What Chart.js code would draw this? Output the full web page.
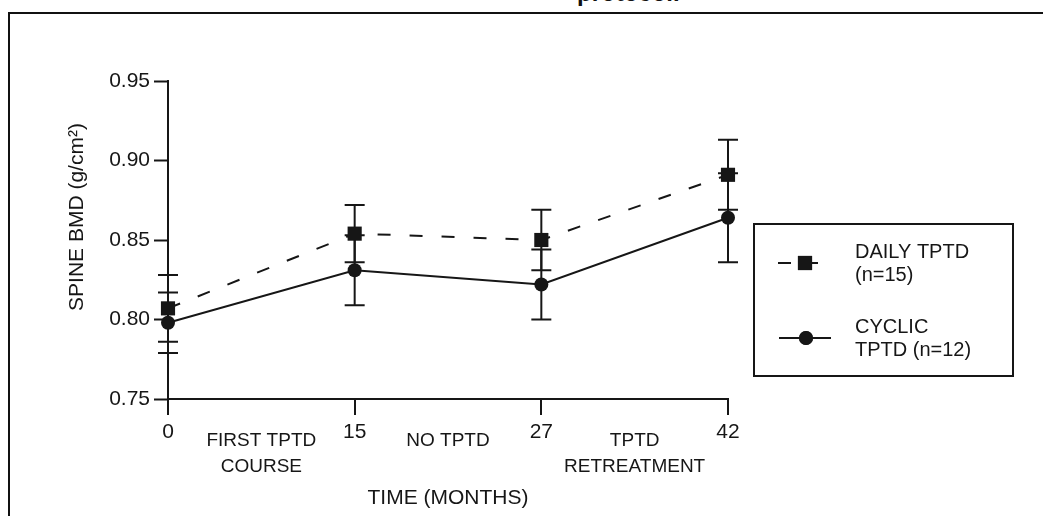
<!DOCTYPE html>
<html>
<head>
<meta charset="utf-8">
<script src="https://cdn.jsdelivr.net/npm/chart.js@4.4.1/dist/chart.umd.min.js"></script>
<style>
  html, body { margin: 0; padding: 0; background: #fff; overflow: hidden; }
  #wrap { position: relative; width: 1043px; height: 516px; }
  #frame { position: absolute; left: 8px; top: 12px; right: -10px; bottom: -10px;
           border-top: 2px solid #111; border-left: 2px solid #111; }
  #cut-title { position: absolute; left: 577px; top: -19px; font: bold 24px/24px Arial, "Liberation Sans", sans-serif; color: #111; }
  #box { position: absolute; left: 0; top: 0; width: 1043px; height: 516px; }
</style>
</head>
<body>
<div id="wrap">
  <div id="cut-title">protocol.</div>
  <div id="frame"></div>
  <div id="box"><canvas id="bmd"></canvas></div>
</div>
<script>
  const months = ['0', '15', '27', '42'];
  const periods = [['FIRST TPTD', 'COURSE'], 'NO TPTD', ['TPTD', 'RETREATMENT']];

  const daily = [0.807, 0.854, 0.850, 0.891];
  const dailyErr = [0.021, 0.018, 0.019, 0.022];
  const cyclic = [0.798, 0.831, 0.822, 0.864];
  const cyclicErr = [0.019, 0.022, 0.022, 0.028];

  const yTicks = [0.75, 0.80, 0.85, 0.90, 0.95];

  const ink = '#161616';
  const FONT = 'Arial, "Liberation Sans", sans-serif';

  // points sit at equal steps, one per visit
  function toPoints(vals) {
    return vals.map((v, i) => ({x: i, y: v}));
  }

  const errorBars = {
    id: 'errorBars',
    beforeDatasetsDraw(chart) {
      const ctx = chart.ctx;
      const yScale = chart.scales.y;
      const errs = [dailyErr, cyclicErr];
      ctx.save();
      ctx.strokeStyle = ink;
      ctx.lineWidth = 2;
      chart.data.datasets.forEach((ds, di) => {
        chart.getDatasetMeta(di).data.forEach((pt, i) => {
          const v = ds.data[i].y;
          const top = yScale.getPixelForValue(v + errs[di][i]);
          const bot = yScale.getPixelForValue(v - errs[di][i]);
          ctx.beginPath();
          ctx.moveTo(pt.x, top); ctx.lineTo(pt.x, bot);
          ctx.moveTo(pt.x - 10, top); ctx.lineTo(pt.x + 10, top);
          ctx.moveTo(pt.x - 10, bot); ctx.lineTo(pt.x + 10, bot);
          ctx.stroke();
        });
      });
      ctx.restore();
    }
  };

  const yTitle = {
    id: 'yTitle',
    afterDraw(chart) {
      const ctx = chart.ctx;
      ctx.save();
      ctx.translate(77, 217);
      ctx.rotate(-Math.PI / 2);
      ctx.font = '21px ' + FONT;
      ctx.fillStyle = ink;
      ctx.textAlign = 'center';
      ctx.textBaseline = 'middle';
      ctx.fillText('SPINE BMD (g/cm²)', 0, 0);
      ctx.restore();
    }
  };

  // boxed legend on the right, two lines of text per entry
  const boxLegend = {
    id: 'boxLegend',
    afterDraw(chart) {
      const ctx = chart.ctx;
      const sets = chart.data.datasets;
      ctx.save();
      ctx.strokeStyle = ink;
      ctx.lineWidth = 2;
      ctx.strokeRect(754, 224, 259, 152);

      const rows = [
        {ds: sets[0], y: 263, x0: 778, x1: 818, mx: 805, text: ['DAILY TPTD', '(n=15)'], ty: 252},
        {ds: sets[1], y: 338, x0: 779, x1: 831, mx: 806, text: ['CYCLIC', 'TPTD (n=12)'], ty: 327}
      ];
      rows.forEach(r => {
        ctx.setLineDash(r.ds.borderDash || []);
        ctx.beginPath();
        ctx.moveTo(r.x0, r.y); ctx.lineTo(r.x1, r.y);
        ctx.stroke();
        ctx.setLineDash([]);
        ctx.fillStyle = ink;
        Chart.helpers.drawPoint(ctx, {pointStyle: r.ds.pointStyle, radius: r.ds.pointRadius, borderWidth: 0}, r.mx, r.y);
        ctx.fill();
        ctx.font = '20px ' + FONT;
        ctx.textBaseline = 'middle';
        ctx.textAlign = 'left';
        ctx.fillText(r.text[0], 855, r.ty);
        ctx.fillText(r.text[1], 855, r.ty + 23);
      });
      ctx.restore();
    }
  };

  new Chart(document.getElementById('bmd'), {
    type: 'line',
    data: {
      datasets: [
        {
          label: 'DAILY TPTD (n=15)',
          data: toPoints(daily),
          borderColor: ink,
          backgroundColor: ink,
          borderWidth: 2,
          borderDash: [13, 19],
          pointStyle: 'rect',
          pointRadius: 10,
          pointBorderWidth: 0,
          clip: false
        },
        {
          label: 'CYCLIC TPTD (n=12)',
          data: toPoints(cyclic),
          borderColor: ink,
          backgroundColor: ink,
          borderWidth: 2,
          pointStyle: 'circle',
          pointRadius: 7,
          pointBorderWidth: 0,
          clip: false
        }
      ]
    },
    options: {
      responsive: true,
      maintainAspectRatio: false,
      animation: false,
      layout: { padding: { top: 81, right: 315, bottom: 0, left: 0 } },
      plugins: {
        legend: { display: false },
        tooltip: { enabled: false }
      },
      scales: {
        x: {
          type: 'linear',
          min: 0,
          max: 3,
          afterFit: s => { s.height = 117; },
          border: { color: ink, width: 2 },
          grid: {
            drawOnChartArea: false,
            tickLength: 16,
            lineWidth: 2,
            tickWidth: 2,
            tickColor: c => Number.isInteger(c.tick && c.tick.value) ? ink : 'rgba(0,0,0,0)'
          },
          ticks: {
            stepSize: 0.5,
            autoSkip: false,
            maxRotation: 0,
            padding: 13,
            color: ink,
            font: c => Number.isInteger(c.tick && c.tick.value)
              ? {family: FONT, size: 21, lineHeight: 0.4}
              : {family: FONT, size: 19, lineHeight: 1.35},
            callback: v => Number.isInteger(v) ? months[v] : periods[Math.floor(v)]
          },
          title: {
            display: true,
            text: 'TIME (MONTHS)',
            color: ink,
            font: {family: FONT, size: 21},
            padding: {top: 4, bottom: 5}
          }
        },
        y: {
          min: yTicks[0],
          max: yTicks[yTicks.length - 1],
          afterFit: s => { s.width = 168; },
          afterBuildTicks: s => { s.ticks = yTicks.map(v => ({value: v})); },
          border: { color: ink, width: 2 },
          grid: {
            drawOnChartArea: false,
            tickLength: 14,
            tickWidth: 2,
            tickColor: ink
          },
          ticks: {
            padding: 4,
            color: ink,
            font: {family: FONT, size: 21},
            callback: v => v.toFixed(2)
          }
        }
      }
    },
    plugins: [errorBars, yTitle, boxLegend]
  });
</script>
</body>
</html>
